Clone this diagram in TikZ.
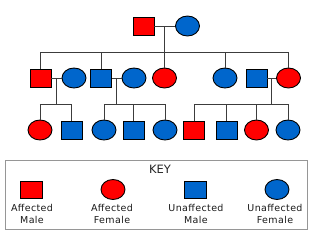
\documentclass[tikz,border=0pt]{standalone}
\usepackage{fontspec}
\setmainfont{DejaVu Sans}
\newfontfamily\keyfont{DejaVu Sans}[LetterSpace=4]
\usetikzlibrary{shapes.geometric,calc}
\definecolor{affred}{RGB}{255,0,0}
\definecolor{unblue}{RGB}{0,102,204}
\definecolor{linegray}{RGB}{60,60,60}
\definecolor{keygray}{RGB}{150,150,150}
\begin{document}
\begin{tikzpicture}[x=1pt,y=-1pt,
  male/.style={rectangle,draw=black,line width=0.9pt,minimum width=21pt,minimum height=18pt,inner sep=0pt},
  female/.style={ellipse,draw=black,line width=0.9pt,minimum width=24pt,minimum height=20pt,inner sep=0pt},
  aff/.style={fill=affred},
  unaff/.style={fill=unblue},
  link/.style={draw=linegray,line width=0.9pt},
  keylabel/.style={font=\keyfont\fontsize{9.5}{12}\selectfont,align=center,text=black!90}]
\useasboundingbox (0,0) rectangle (309,231);
% generation 1
\node[male,aff] (g1m) at (143.5,26) {};
\node[female,unaff] (g1f) at (187.5,26) {};
\draw[link] (g1m) -- (g1f);
\coordinate (m0) at ($(g1m.east)!0.5!(g1f.west)$);
\coordinate (s1) at (m0 |- 0,52);
\draw[link] (m0) -- (s1);
% generation 2
\node[male,aff] (a) at (40.5,78) {};
\node[female,unaff] (b) at (74,78) {};
\node[male,unaff] (c) at (101,78) {};
\node[female,unaff] (d) at (134,78) {};
\node[female,aff] (e) at (164.5,78) {};
\node[female,unaff] (f) at (225,78) {};
\node[male,unaff] (g) at (256.5,78) {};
\node[female,aff] (h) at (288.5,78) {};
\draw[link] (a.north |- s1) -- (h.north |- s1);
\foreach \n in {a,c,e,f,h} \draw[link] (\n.north) -- (\n.north |- s1);
\draw[link] (a) -- (b);
\draw[link] (c) -- (d);
\draw[link] (g) -- (h);
\coordinate (m1) at ($(a.east)!0.5!(b.west)$);
\coordinate (m2) at ($(c.east)!0.5!(d.west)$);
\coordinate (m3) at ($(g.east)!0.5!(h.west)$);
\coordinate (s2) at (0,104);
% generation 3
\node[female,aff] (i) at (40,130) {};
\node[male,unaff] (j) at (71.5,130) {};
\node[female,unaff] (k) at (104,130) {};
\node[male,unaff] (l) at (133.5,130) {};
\node[female,unaff] (m) at (165,130) {};
\node[male,aff] (n) at (194,130) {};
\node[male,unaff] (o) at (226.5,130) {};
\node[female,aff] (p) at (256.5,130) {};
\node[female,unaff] (q) at (288,130) {};
\foreach \mm in {m1,m2,m3} \draw[link] (\mm) -- (\mm |- s2);
\draw[link] (i.north |- s2) -- (j.north |- s2);
\draw[link] (k.north |- s2) -- (m.north |- s2);
\draw[link] (n.north |- s2) -- (q.north |- s2);
\foreach \n in {i,j,k,l,m,n,o,p,q} \draw[link] (\n.north) -- (\n.north |- s2);
% key
\node[draw=keygray,line width=0.9pt,minimum width=302pt,minimum height=69pt,inner sep=0pt] (keybox) at (156,194.5) {};
\node[font=\fontsize{11.5}{13}\selectfont,text=black!85] (keytitle) at (160,169) {KEY};
\node[male,aff,minimum width=22pt,minimum height=17pt] (k1) at (31,189.5) {};
\node[female,aff] (k2) at (113,189.5) {};
\node[male,unaff,minimum width=22pt,minimum height=17pt] (k3) at (195,189.5) {};
\node[female,unaff] (k4) at (277,189.5) {};
\node[keylabel] (l1) at (32,214) {Affected\\Male};
\node[keylabel] (l2) at (112,214) {Affected\\Female};
\node[keylabel] (l3) at (196,214) {Unaffected\\Male};
\node[keylabel] (l4) at (275,214) {Unaffected\\Female};
\end{tikzpicture}
\end{document}
